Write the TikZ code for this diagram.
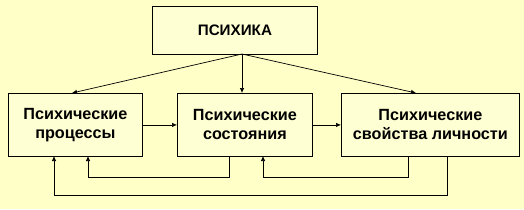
\documentclass[tikz,border=0pt]{standalone}
\usepackage{fontspec}
\setmainfont{Liberation Sans}
\usetikzlibrary{arrows.meta}
\definecolor{bg}{HTML}{FFFFC8}
\definecolor{boxfill}{HTML}{FFFFD4}
\begin{document}
\begin{tikzpicture}[x=1pt,y=-1pt,
  blk/.style={draw=black,fill=boxfill,line width=0.8pt,inner sep=0pt,font=\bfseries\fontsize{16.2}{19}\selectfont,align=center,anchor=north west},
  arr/.style={line width=0.7pt,-{Latex[length=5pt,width=4.5pt]}}]
\fill[bg] (0,0) rectangle (524,209);
\useasboundingbox (0,0) rectangle (524,209);
\node[blk,minimum width=165pt,minimum height=48pt,font=\bfseries\fontsize{15.2}{17}\selectfont] (top) at (152,6) {ПСИХИКА};
\node[blk,minimum width=134pt,minimum height=63pt] (proc) at (8,93) {Психические\\процессы};
\node[blk,minimum width=135pt,minimum height=63pt] (sost) at (177,93) {Психические\\состояния};
\node[blk,minimum width=178pt,minimum height=63pt] (svoj) at (341,93) {Психические\\свойства личности};
\coordinate (apex) at (242,54);
\draw[arr] (apex) -- (72,93);
\draw[arr] (apex) -- (242,93);
\draw[arr] (apex) -- (416,93);
\draw[arr] (proc.east) -- (sost.west);
\draw[arr] (sost.east) -- (svoj.west);
\draw[arr] (229,156) |- (88,177) -- (88,156);
\draw[arr] (408,156) |- (263,177) -- (263,156);
\draw[arr] (447,156) |- (54,195) -- (54,156);
\end{tikzpicture}
\end{document}
